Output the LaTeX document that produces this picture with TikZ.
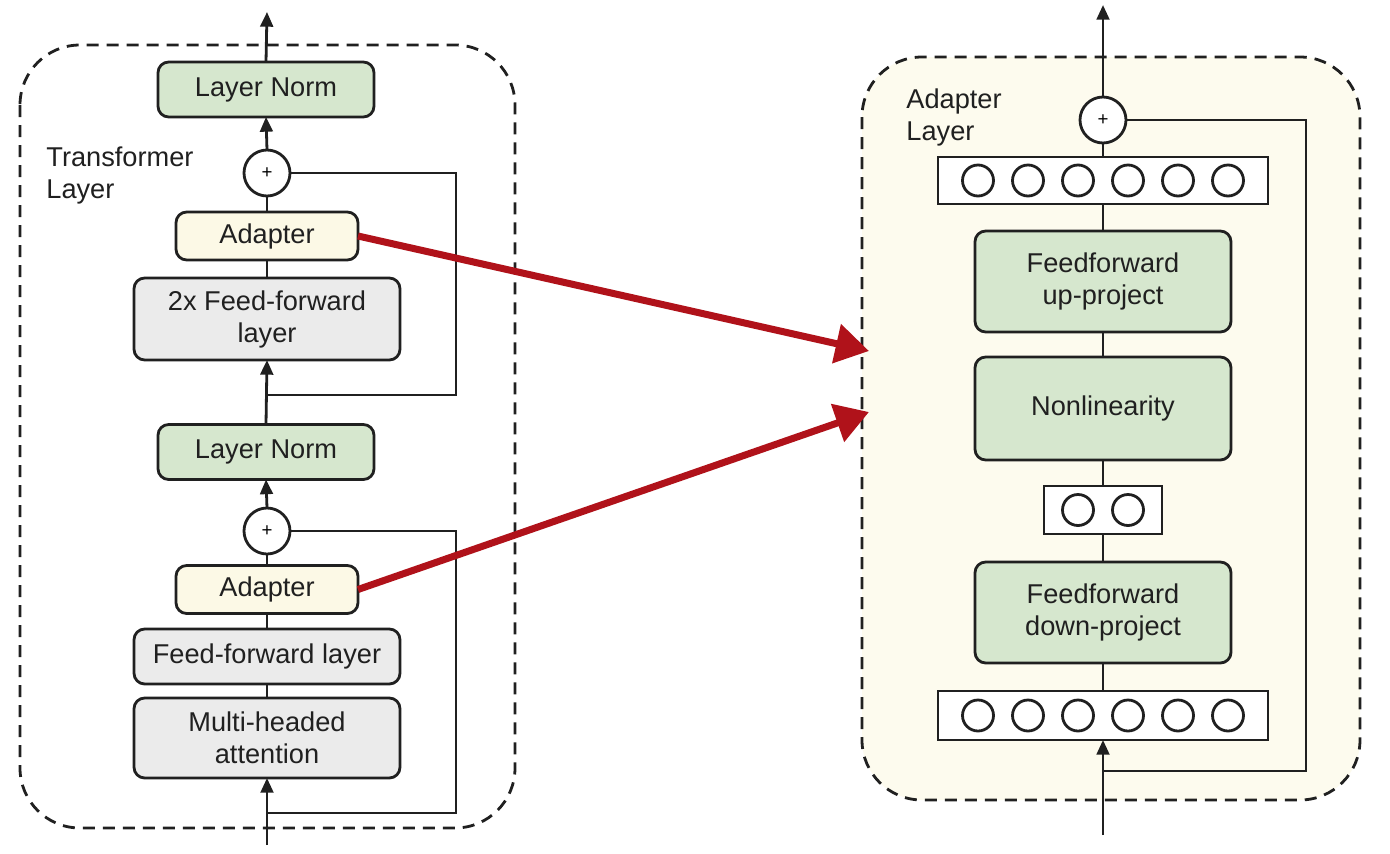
\documentclass[tikz,border=0pt]{standalone}
\usepackage{fontspec}
\setmainfont{Liberation Sans}
\usetikzlibrary{arrows.meta}

\definecolor{lngreen}{RGB}{214,231,206}
\definecolor{adyellow}{RGB}{252,249,230}
\definecolor{ffgray}{RGB}{235,235,235}
\definecolor{creamfill}{RGB}{253,251,238}
\definecolor{inkgray}{RGB}{32,32,32}
\definecolor{linkred}{RGB}{176,18,26}

\tikzset{every picture/.style={line width=2.1pt}}

\begin{document}
\begin{tikzpicture}[x=0.75pt,y=0.75pt,yscale=-1,xscale=1,
  blockbox/.style={draw=inkgray, rounded corners=8pt, align=center, inner sep=2pt, outer sep=0pt, text=inkgray, font=\fontsize{20.4}{24}\selectfont},
  normbox/.style={blockbox, fill=lngreen, minimum width=162pt, minimum height=41.25pt},
  adaptbox/.style={blockbox, fill=adyellow, minimum width=136.5pt, minimum height=36pt},
  ffbox/.style={blockbox, fill=ffgray, minimum width=199.5pt},
  projbox/.style={blockbox, fill=lngreen, minimum width=192pt, minimum height=75.75pt},
  sumnode/.style={circle, draw=inkgray, fill=white, minimum size=34.5pt, inner sep=0pt, outer sep=0pt, font=\fontsize{14}{14}\selectfont},
  rowbox/.style={rectangle, draw=inkgray, fill=white, inner sep=0pt, outer sep=0pt},
  neuron/.style={circle, draw=inkgray, fill=white, minimum size=23.25pt, inner sep=0pt},
  flow/.style={draw=inkgray, -{Triangle[length=11pt,width=9.5pt]}},
  wire/.style={draw=inkgray},
  redlink/.style={draw=linkred, line width=5.25pt, -{Triangle[length=25pt,width=29pt]}},
  layerframe/.style={draw=inkgray, dash pattern=on 9pt off 6pt, rounded corners=45pt},
  caption/.style={align=left, text=inkgray, inner sep=0pt, font=\fontsize{20.4}{24}\selectfont}]
\useasboundingbox (0,0) rectangle (1390,854);
\fill[white] (0,0) rectangle (1390,854);

%Shape: Dashed frames
\draw[layerframe] (20,45) rectangle (515,828);
\draw[layerframe, fill=creamfill] (862,57) rectangle (1360,800);

% Text Node
\node[caption, anchor=west] (tlabel) at (45,175) {Transformer\\Layer};
\node[caption, anchor=west] (alabel) at (905,117) {Adapter\\Layer};

%Transformer layer blocks
\node[normbox] (ln1) at (266,89.5) {Layer Norm};
\node[sumnode] (plus1) at (267,173) {+};
\node[adaptbox] (ad1) at (267,236) {Adapter};
\node[ffbox, minimum height=61.5pt] (ff2) at (267,319) {2x Feed-forward\\layer};
\node[normbox] (ln2) at (266,452) {Layer Norm};
\node[sumnode] (plus2) at (267,531) {+};
\node[adaptbox] (ad2) at (267,589.5) {Adapter};
\node[ffbox, minimum height=41.25pt] (ff1) at (267,656.5) {Feed-forward layer};
\node[ffbox, minimum height=60pt] (mha) at (267,738) {Multi-headed\\attention};

\coordinate (out1) at (267,12);
\coordinate (in1) at (267,845);
\coordinate (br1) at (267,395);
\coordinate (c1) at (456,395);
\coordinate (br2) at (267,813);
\coordinate (c2) at (456,813);

%Straight Lines
\draw[flow] (ln1.north) -- (out1);
\draw[flow] (plus1.north) -- (ln1.south);
\draw[wire] (ad1.north) -- (plus1.south);
\draw[wire] (ff2.north) -- (ad1.south);
\draw[flow] (ln2.north) -- (ff2.south);
\draw[wire] (br1) -- (c1) |- (plus1.east);
\draw[flow] (plus2.north) -- (ln2.south);
\draw[wire] (ad2.north) -- (plus2.south);
\draw[wire] (ff1.north) -- (ad2.south);
\draw[wire] (mha.north) -- (ff1.south);
\draw[flow] (in1) -- (mha.south);
\draw[wire] (br2) -- (c2) |- (plus2.east);

%Adapter layer blocks
\node[sumnode] (plus3) at (1103,120) {+};
\node[rowbox, minimum width=247.5pt, minimum height=35.25pt] (row1) at (1103,180.5) {};
\foreach \k in {1,...,6}
  \node[neuron] (up\k) at ({1103+(\k-3.5)*50},180.5) {};
\node[projbox] (upproj) at (1103,281.5) {Feedforward\\up-project};
\node[projbox, minimum height=77.25pt] (nonlin) at (1103,408.5) {Nonlinearity};
\node[rowbox, minimum width=88.5pt, minimum height=36pt] (mid) at (1103,510) {};
\foreach \k in {1,2}
  \node[neuron] (mid\k) at ({1103+(\k-1.5)*50},510) {};
\node[projbox] (downproj) at (1103,612.5) {Feedforward\\down-project};
\node[rowbox, minimum width=247.5pt, minimum height=36.75pt] (row2) at (1103,715.5) {};
\foreach \k in {1,...,6}
  \node[neuron] (dn\k) at ({1103+(\k-3.5)*50},715.5) {};

\coordinate (out2) at (1103,5);
\coordinate (in2) at (1103,835);
\coordinate (br3) at (1103,771);
\coordinate (c3) at (1306,771);

%Straight Lines
\draw[flow] (plus3.north) -- (out2);
\draw[wire] (row1.north) -- (plus3.south);
\draw[wire] (upproj.north) -- (row1.south);
\draw[wire] (nonlin.north) -- (upproj.south);
\draw[wire] (mid.north) -- (nonlin.south);
\draw[wire] (downproj.north) -- (mid.south);
\draw[wire] (row2.north) -- (downproj.south);
\draw[flow] (in2) -- (row2.south);
\draw[wire] (br3) -- (c3) |- (plus3.east);

%Red links
\coordinate (tip1) at (869,351);
\coordinate (tip2) at (869,412);
\draw[redlink] (ad1.east) -- (tip1);
\draw[redlink] (ad2.east) -- (tip2);

\end{tikzpicture}
\end{document}
